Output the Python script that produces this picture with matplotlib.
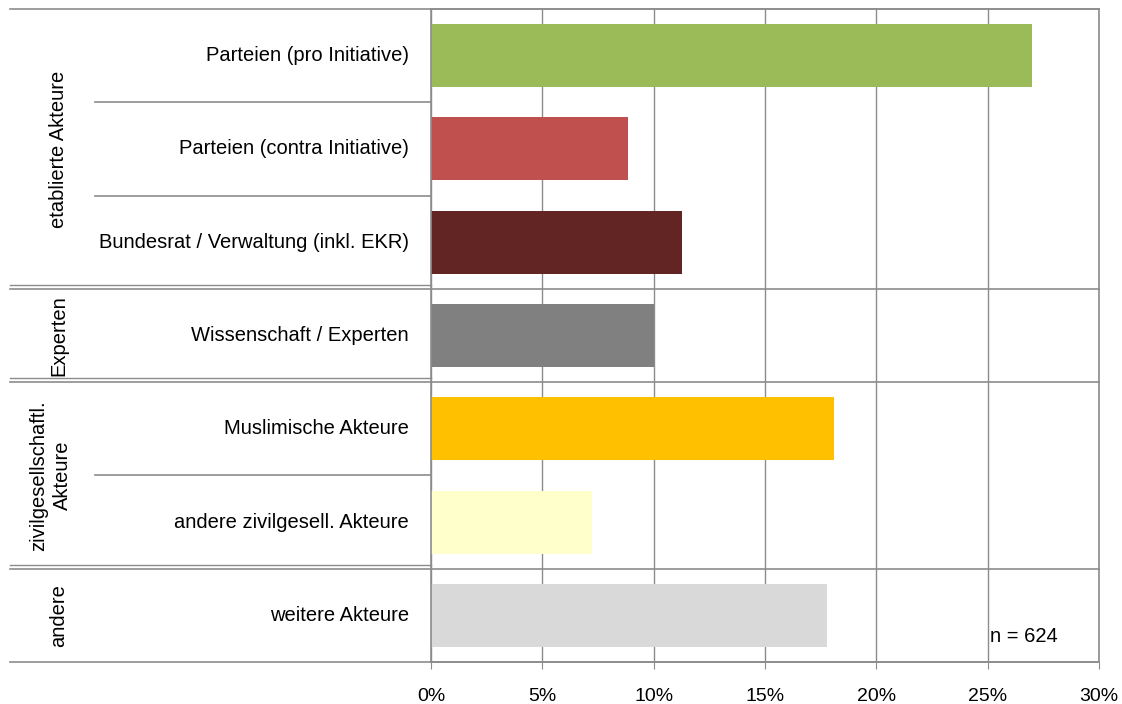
import matplotlib.pyplot as plt
from matplotlib.patches import Rectangle

# data
categories = ['Parteien (pro Initiative)', 'Parteien (contra Initiative)',
              'Bundesrat / Verwaltung (inkl. EKR)', 'Wissenschaft / Experten',
              'Muslimische Akteure', 'andere zivilgesell. Akteure', 'weitere Akteure']
values = [27.0, 8.85, 11.25, 10.0, 18.1, 7.25, 17.8]
colors = ['#9BBB59', '#C0504D', '#632523', '#808080', '#FFC000', '#FFFFCC', '#D9D9D9']
groups = ['etablierte Akteure', 'Experten', 'zivilgesellschaftl.\nAkteure', 'andere']
group_sizes = [3, 1, 2, 1]
xticks = [0, 5, 10, 15, 20, 25, 30]
n_label = 'n = 624'

plt.rcParams['font.family'] = ['Liberation Sans', 'DejaVu Sans']
line_col = '#8C8C8C'

fig = plt.figure(figsize=(11.22, 7.04), dpi=100)
ax = fig.add_axes([431 / 1122, 42 / 704, 668 / 1122, 653 / 704])

ypos = list(range(len(categories)))
ax.barh(ypos, values, height=0.675, color=colors, zorder=2)
ax.set_ylim(len(categories) - 0.5, -0.5)
ax.set_xlim(0, 30)
ax.set_xticks(xticks)
ax.set_xticklabels([f'{t}%' for t in xticks], fontsize=14)
ax.tick_params(axis='x', length=5, color=line_col, pad=14)
ax.set_yticks([])
ax.grid(axis='x', color=line_col, linewidth=1, zorder=0)
for s in ax.spines.values():
    s.set_color(line_col)
    s.set_linewidth(1.2)

# category labels
for y, c in zip(ypos, categories):
    ax.text(-0.033, y, c, transform=ax.get_yaxis_transform(), ha='right', va='center',
            fontsize=14.5)

# group separators and group labels
trans = ax.get_yaxis_transform()
ax.plot([-0.63, 1], [-0.5, -0.5], transform=trans, color=line_col, lw=1.2, clip_on=False)
start = -0.5
for i, (g, size) in enumerate(zip(groups, group_sizes)):
    end = start + size
    ax.plot([-0.63, 1], [end, end], transform=trans, color=line_col, lw=1.2, clip_on=False,
            zorder=1)
    if i < len(groups) - 1:
        # the label area shows a doubled line at group borders
        ax.plot([-0.63, 0], [end - 0.045, end - 0.045], transform=trans, color=line_col,
                lw=1.0, clip_on=False)
    for k in range(1, size):
        ax.plot([-0.503, 0], [start + k, start + k], transform=trans, color=line_col,
                lw=1.2, clip_on=False)
    ax.text(-0.557 if '\n' not in g else -0.57, (start + end) / 2, g, transform=trans,
            rotation=90, ha='center', va='center', fontsize=14.5, linespacing=1.3)
    start = end

# n label with white box covering part of the gridline
ax.add_patch(Rectangle((24.5, 5.55), 5.3, 0.42, facecolor='white', edgecolor='none',
                       zorder=1))
ax.text(25.1, 6.23, n_label, ha='left', va='center', fontsize=14.5, zorder=3)

fig.savefig('out.png', dpi=100)
